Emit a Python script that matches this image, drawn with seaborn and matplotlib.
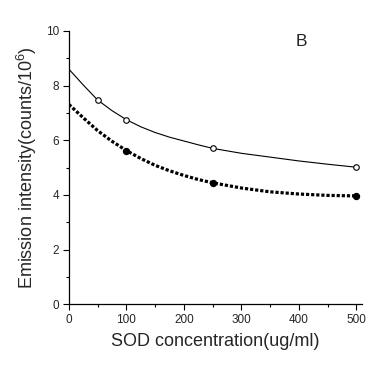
import matplotlib
matplotlib.use("Agg")
import matplotlib.pyplot as plt
import seaborn as sns
import pandas as pd

# fitted curves
curve_x = [0, 25, 50, 75, 100, 125, 150, 175, 200, 225, 250, 300, 350, 400, 450, 500]
open_curve = [8.6, 8.02, 7.47, 7.08, 6.75, 6.49, 6.28, 6.11, 5.97, 5.83, 5.70, 5.52, 5.38, 5.24, 5.12, 5.01]
filled_curve = [7.31, 6.82, 6.35, 5.96, 5.62, 5.33, 5.08, 4.88, 4.71, 4.56, 4.44, 4.25, 4.11, 4.03, 3.98, 3.96]

# measured points
open_x = [50, 100, 250, 500]
open_y = [7.47, 6.75, 5.70, 5.01]
filled_x = [100, 250, 500]
filled_y = [5.62, 4.42, 3.96]

sns.set_style("ticks")
plt.rcParams['font.family'] = ['Liberation Sans', 'DejaVu Sans']
plt.rcParams['mathtext.fontset'] = 'custom'
plt.rcParams['mathtext.rm'] = 'Liberation Sans'
plt.rcParams['mathtext.it'] = 'Liberation Sans'

fig = plt.figure(figsize=(3.89, 3.76), dpi=100)
ax = fig.add_axes([0.177, 0.191, 0.754, 0.727])

df_c = pd.DataFrame({"x": curve_x, "o": open_curve, "f": filled_curve})
sns.lineplot(data=df_c, x="x", y="o", ax=ax, color="black", linewidth=0.8)
sns.lineplot(data=df_c, x="x", y="f", ax=ax, color="black", linewidth=2.3,
             dashes=False)
ax.lines[-1].set_dashes((1, 0.6))
ax.lines[-1].set_dash_capstyle('butt')

sns.scatterplot(x=open_x, y=open_y, ax=ax, marker='o', s=16,
                facecolor='white', edgecolor='black', linewidth=0.8, zorder=5)
sns.scatterplot(x=filled_x, y=filled_y, ax=ax, marker='o', s=28,
                color='black', edgecolor='black', linewidth=0, zorder=5)

ax.set_xlim(0, 510)
ax.set_ylim(0, 10)
ax.set_xticks([0, 100, 200, 300, 400, 500])
ax.set_yticks([0, 2, 4, 6, 8, 10])
ax.set_xticks([50, 150, 250, 350, 450], minor=True)
ax.set_yticks([1, 3, 5, 7, 9], minor=True)
ax.tick_params(which='major', direction='out', length=4, width=0.8, labelsize=8.5, pad=3, color='black')
ax.tick_params(which='minor', direction='out', length=2.5, width=0.8, color='black')
for s in ['top', 'right']:
    ax.spines[s].set_visible(False)
for s in ['left', 'bottom']:
    ax.spines[s].set_linewidth(0.9)
    ax.spines[s].set_color('black')

ax.set_xlabel("SOD concentration(ug/ml)", fontsize=13, labelpad=5)
ax.set_ylabel(r"Emission intensity(counts/10$^6$)", fontsize=13, labelpad=5)
ax.text(404, 9.62, "B", fontsize=12.5, ha='center', va='center')

fig.savefig("out.png", dpi=100)
